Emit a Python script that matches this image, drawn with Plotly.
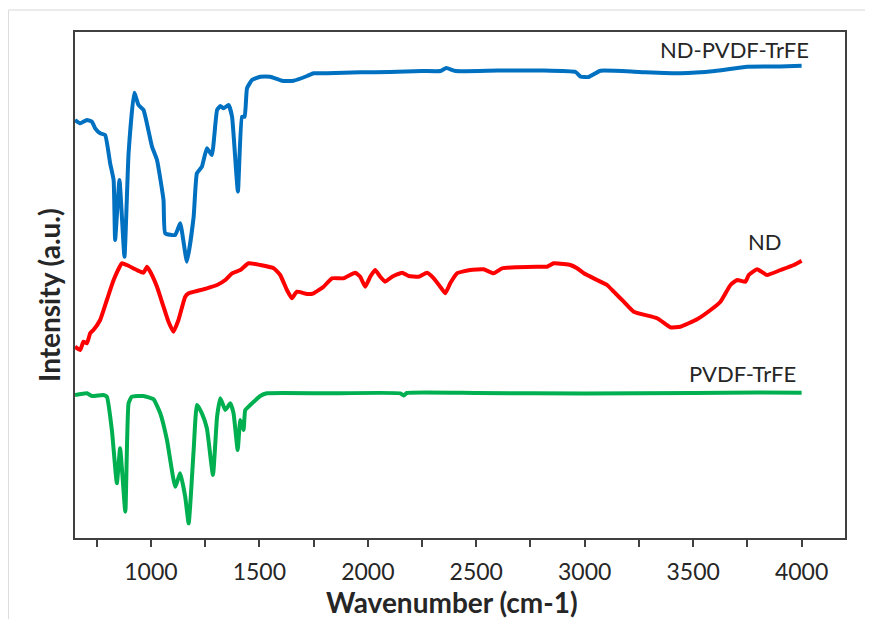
import plotly.graph_objects as go

# ---- data (wavenumber cm-1, intensity a.u.) ----
nd_pvdf_wn = [650, 674, 705, 728, 743, 766, 789, 812, 828, 835, 855, 878, 897, 923, 943, 966,
              1005, 1028, 1058, 1066, 1112, 1135, 1166, 1197, 1212, 1235, 1258, 1281, 1305, 1320,
              1335, 1358, 1374, 1401, 1420, 1432, 1443, 1466, 1504, 1550, 1604, 1658, 1720, 1750,
              1812, 1965, 2100, 2250, 2335, 2362, 2404, 2600, 2800, 2958, 2981, 3018, 3073, 3250,
              3442, 3600, 3749, 3900, 4000]
nd_pvdf_int = [418, 414.7, 418, 416.3, 409.7, 404.7, 403, 374.7, 358, 298, 358, 281.3, 384.7, 445.3,
               433, 428, 391.3, 378, 338, 304.7, 303, 314.7, 276.3, 321.3, 364.7, 371.3, 389.7, 383,
               428, 432, 429.7, 433, 421.3, 346.3, 421.3, 421.3, 449.7, 458, 461.3, 461.3, 457.3,
               457.3, 462, 464.7, 464.7, 465.7, 466, 467, 467, 470, 467, 467.5, 467.5, 466, 461.3,
               461, 467.3, 466, 464.7, 467, 471.3, 471.5, 472.3]

nd_wn = [650, 674, 689, 705, 720, 735, 766, 797, 828, 866, 889, 935, 966, 982, 997, 1028, 1058,
         1081, 1104, 1127, 1158, 1174, 1212, 1258, 1305, 1343, 1374, 1412, 1450, 1504, 1566, 1596,
         1627, 1650, 1673, 1720, 1750, 1796, 1835, 1888, 1942, 1965, 1988, 2011, 2034, 2057, 2080,
         2112, 2158, 2188, 2234, 2273, 2304, 2334, 2357, 2380, 2411, 2472, 2534, 2580, 2619, 2688,
         2780, 2827, 2857, 2903, 2934, 2965, 2996, 3057, 3103, 3134, 3180, 3226, 3334, 3395, 3441,
         3518, 3580, 3626, 3672, 3703, 3741, 3756, 3795, 3841, 3903, 3964, 4000]
nd_int = [191.3, 188, 196.3, 194.7, 204.7, 208, 218, 238, 258, 274.7, 273, 268, 265.3, 271.3, 266.3,
          251.3, 231.3, 216.3, 206.3, 218, 241.3, 244.7, 247, 249.7, 253, 258, 264.7, 268, 274.7, 273,
          269.7, 263, 248, 239.7, 246.3, 244, 244.7, 251.3, 259.7, 259.7, 265.3, 261.3, 251.3, 261.3,
          268, 261.3, 256.3, 261.3, 265.3, 262, 261.3, 265.3, 259.7, 251.3, 244.7, 254.7, 264.7, 268,
          268.7, 264.7, 269.7, 270.7, 271.3, 271.3, 274.7, 274, 273, 269.7, 264.7, 258, 253, 246.3,
          236.3, 226.3, 219.7, 210.7, 211.3, 218.7, 228, 236.3, 253, 258, 256.3, 263, 268.7, 263,
          268, 273, 277.3]

pvdf_wn = [650, 705, 728, 781, 797, 820, 843, 858, 882, 897, 912, 966, 1012, 1043, 1074, 1112, 1135,
           1158, 1174, 1197, 1212, 1235, 1258, 1286, 1305, 1320, 1343, 1366, 1381, 1400, 1412, 1427,
           1435, 1458, 1504, 1535, 1800, 2150, 2165, 2180, 2500, 3000, 3500, 3800, 4000]
pvdf_int = [143, 144.7, 142, 143, 141.3, 108, 54.7, 89.7, 26.3, 134.7, 141.3, 142, 138.7, 124.7, 98,
            51.3, 64.7, 41.3, 14.7, 88, 133, 124.7, 109.7, 63, 121.3, 139.7, 128, 134.7, 124.7, 88,
            118, 108, 128, 133, 142, 144.7, 144.7, 144.7, 142.5, 145, 145, 144.5, 145, 145.5, 145.3]

labels = ["ND-PVDF-TrFE", "ND", "PVDF-TrFE"]
label_x = [4041, 3918, 3981]
label_y = [489, 296.3, 165]

x_title = "Wavenumber (cm-1)"
y_title = "Intensity (a.u.)"

x_range = [650, 4200]
y_range = [0, 506]

FONT = "Lato"
TXT = "#262626"

fig = go.Figure()
fig.add_trace(go.Scatter(x=nd_pvdf_wn, y=nd_pvdf_int, mode="lines", name=labels[0],
                         line=dict(color="#0070C0", width=4, shape="spline", smoothing=0.4)))
fig.add_trace(go.Scatter(x=nd_wn, y=nd_int, mode="lines", name=labels[1],
                         line=dict(color="#FF0000", width=4, shape="spline", smoothing=0.4)))
fig.add_trace(go.Scatter(x=pvdf_wn, y=pvdf_int, mode="lines", name=labels[2],
                         line=dict(color="#00B050", width=4, shape="spline", smoothing=0.4)))

for t, x, y in zip(labels, label_x, label_y):
    fig.add_annotation(x=x, y=y, text=t, showarrow=False, xanchor="right", yanchor="middle",
                       font=dict(family=FONT, size=22, color=TXT))

# axis titles as paper annotations for exact placement
fig.add_annotation(x=0.49, y=-0.1265, xref="paper", yref="paper", text="<b>" + x_title + "</b>",
                   showarrow=False, xanchor="center", yanchor="middle",
                   font=dict(family=FONT, size=28, color=TXT))
fig.add_annotation(x=-0.034, y=0.48, xref="paper", yref="paper", text="<b>" + y_title + "</b>",
                   showarrow=False, xanchor="center", yanchor="middle", textangle=-90,
                   font=dict(family=FONT, size=28, color=TXT))

# the page body has an 8px margin: the figure is shrunk by 8px so the plot frame sits
# at the same place in the 873x621 window as in the reference
fig.update_layout(
    width=865, height=613,
    margin=dict(l=67, r=28, t=24, b=83),
    paper_bgcolor="white", plot_bgcolor="white",
    showlegend=False,
    font=dict(family=FONT, color=TXT),
)
fig.update_xaxes(
    range=x_range, tick0=1000, dtick=500, ticks="outside", ticklen=7, tickwidth=2,
    tickcolor="#404040", tickfont=dict(family=FONT, size=23, color=TXT), ticklabelstandoff=5,
    minor=dict(dtick=250, tick0=750, ticks="outside", ticklen=7, tickwidth=2, tickcolor="#404040"),
    showline=True, linecolor="#404040", linewidth=2, mirror=True, showgrid=False, zeroline=False,
)
fig.update_yaxes(
    range=y_range, showticklabels=False, ticks="",
    showline=True, linecolor="#404040", linewidth=2, mirror=True, showgrid=False, zeroline=False,
)
# faint outer frame lines of the original picture
fig.add_shape(type="line", xref="paper", yref="paper", x0=-0.0865, x1=-0.0865, y0=-0.16, y1=1.0435,
              line=dict(color="#d9d9d9", width=1))
fig.add_shape(type="line", xref="paper", yref="paper", x0=-0.0865, x1=1.04, y0=1.0435, y1=1.0435,
              line=dict(color="#d9d9d9", width=1))

fig.write_html("out.html")
